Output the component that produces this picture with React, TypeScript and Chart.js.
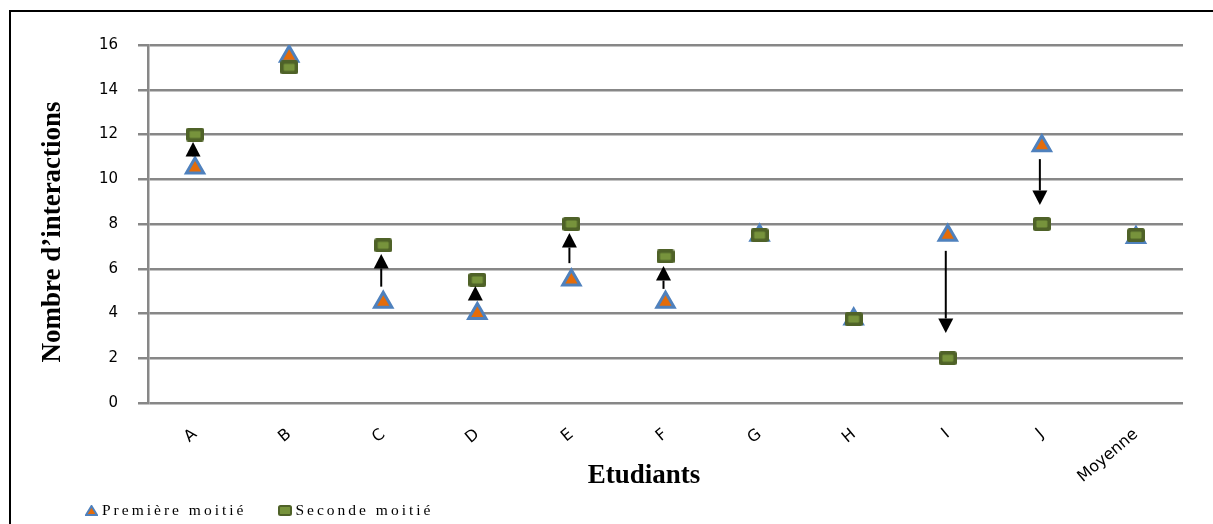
import React, { useEffect, useRef } from "react";
import { Chart, registerables } from "chart.js";

Chart.register(...registerables);

// ---- Data ----
const categories = ["A", "B", "C", "D", "E", "F", "G", "H", "I", "J", "Moyenne"];
const premiereMoitie = [10.5, 15.5, 4.5, 4.0, 5.5, 4.5, 7.5, 3.75, 7.5, 11.5, 7.4];
const secondeMoitie = [12, 15, 7.05, 5.5, 8, 6.55, 7.5, 3.75, 2, 8, 7.5];
const yTickValues = [0, 2, 4, 6, 8, 10, 12, 14, 16];
const seriesNames = ["Première moitié", "Seconde moitié"];
const xTitle = "Etudiants";
const yTitle = "Nombre d’interactions";
// arrows (annotations): category, start value, tip value
const arrowCats = ["A", "C", "D", "E", "F", "I", "J"];
const arrowFrom = [11.0, 5.2, 4.6, 6.25, 5.1, 6.8, 10.9];
const arrowTo = [11.66, 6.66, 5.23, 7.6, 6.12, 3.13, 8.85];

const TRI_BORDER = "#4F81BD";
const TRI_FILL = "#E46C0A";
const SQ_BORDER = "#4F6228";
const SQ_FILL = "#77933C";
const GRID = "#878787";

function makeSquare(w: number, h: number): HTMLCanvasElement {
  const c = document.createElement("canvas");
  c.width = w;
  c.height = h;
  const ctx = c.getContext("2d")!;
  const r = 2.5;
  const path = (x: number, y: number, ww: number, hh: number, rr: number) => {
    ctx.beginPath();
    ctx.moveTo(x + rr, y);
    ctx.lineTo(x + ww - rr, y);
    ctx.quadraticCurveTo(x + ww, y, x + ww, y + rr);
    ctx.lineTo(x + ww, y + hh - rr);
    ctx.quadraticCurveTo(x + ww, y + hh, x + ww - rr, y + hh);
    ctx.lineTo(x + rr, y + hh);
    ctx.quadraticCurveTo(x, y + hh, x, y + hh - rr);
    ctx.lineTo(x, y + rr);
    ctx.quadraticCurveTo(x, y, x + rr, y);
    ctx.closePath();
  };
  path(0, 0, w, h, r);
  ctx.fillStyle = SQ_BORDER;
  ctx.fill();
  path(3.5, 3.5, w - 7, h - 7, 1);
  ctx.fillStyle = SQ_FILL;
  ctx.fill();
  return c;
}

const overlayPlugin = {
  id: "overlay",
  afterDatasetsDraw(chart: any) {
    const { ctx, scales } = chart;
    const xs = scales.x;
    const ys = scales.y;
    ctx.save();
    ctx.fillStyle = "#000";
    ctx.strokeStyle = "#000";
    ctx.lineWidth = 2;
    const head = 14.5;
    const halfW = 7.5;
    arrowCats.forEach((cat, i) => {
      const x = xs.getPixelForValue(categories.indexOf(cat)) - 2;
      const y0 = ys.getPixelForValue(arrowFrom[i]);
      const y1 = ys.getPixelForValue(arrowTo[i]);
      const dir = y1 < y0 ? -1 : 1;
      const base = y1 - dir * head;
      if ((base - y0) * dir > 0) {
        ctx.beginPath();
        ctx.moveTo(x, y0);
        ctx.lineTo(x, base);
        ctx.stroke();
      }
      ctx.beginPath();
      ctx.moveTo(x, y1);
      ctx.lineTo(x - halfW, base);
      ctx.lineTo(x + halfW, base);
      ctx.closePath();
      ctx.fill();
    });
    ctx.restore();
  },
  afterDraw(chart: any) {
    const { ctx } = chart;
    ctx.save();
    ctx.fillStyle = "#000";
    ctx.font = 'bold 27px "Liberation Serif", "Times New Roman", serif';
    ctx.textAlign = "center";
    ctx.textBaseline = "middle";
    ctx.fillText(xTitle, 644, 476);
    ctx.translate(53, 232);
    ctx.rotate(-Math.PI / 2);
    ctx.fillText(yTitle, 0, 0);
    ctx.restore();
  },
};

function ChartCanvas() {
  const ref = useRef<HTMLCanvasElement | null>(null);
  useEffect(() => {
    if (!ref.current) return;
    const square = makeSquare(18, 14);
    const chart = new Chart(ref.current, {
      type: "line",
      data: {
        labels: categories,
        datasets: [
          {
            label: seriesNames[0],
            data: premiereMoitie,
            showLine: false,
            pointStyle: "triangle",
            pointRadius: 10,
            pointHoverRadius: 10,
            pointBorderWidth: 3,
            pointBackgroundColor: TRI_FILL,
            pointBorderColor: TRI_BORDER,
            order: 1,
          },
          {
            label: seriesNames[1],
            data: secondeMoitie,
            showLine: false,
            pointStyle: square as any,
            pointRadius: 9,
            pointHoverRadius: 9,
            pointBackgroundColor: SQ_FILL,
            pointBorderColor: SQ_BORDER,
            order: 0,
          },
        ],
      },
      options: {
        animation: false,
        responsive: false,
        devicePixelRatio: 1,
        layout: { padding: { left: 0, top: 45, right: 30, bottom: 0 } },
        plugins: {
          legend: { display: false },
          tooltip: { enabled: false },
        },
        events: [],
        scales: {
          x: {
            type: "category",
            offset: true,
            grid: { display: false, drawTicks: false },
            border: { display: false },
            ticks: {
              autoSkip: false,
              minRotation: 40,
              maxRotation: 40,
              padding: 22,
              color: "#000",
              font: { family: '"DejaVu Sans", sans-serif', size: 16 },
            },
            afterFit: (s: any) => {
              s.height = 121;
            },
          },
          y: {
            min: 0,
            max: 16,
            afterBuildTicks: (s: any) => {
              s.ticks = yTickValues.map((v) => ({ value: v }));
            },
            grid: {
              color: GRID,
              lineWidth: 2.5,
              tickLength: 10,
              drawTicks: true,
            },
            border: { display: true, color: GRID, width: 2.5 },
            ticks: {
              padding: 20,
              color: "#000",
              font: { family: '"DejaVu Sans", sans-serif', size: 15 },
            },
            afterFit: (s: any) => {
              s.width = 148;
            },
          },
        },
      },
      plugins: [overlayPlugin],
    });
    return () => chart.destroy();
  }, []);
  return <canvas ref={ref} width={1213} height={524} style={{ position: "absolute", left: 0, top: 0 }} />;
}

const legendText: React.CSSProperties = {
  fontFamily: '"Liberation Serif", "Times New Roman", serif',
  fontSize: 15.5,
  letterSpacing: "3px",
  color: "#000",
  whiteSpace: "nowrap",
};

export default function App() {
  return (
    <div style={{ position: "fixed", left: 0, top: 0, width: 1213, height: 524, background: "#fff", overflow: "hidden" }}>
      <div
        style={{
          position: "absolute",
          left: 9,
          top: 10,
          width: 1220,
          height: 530,
          borderLeft: "2px solid #000",
          borderTop: "2px solid #000",
        }}
      />
      <ChartCanvas />
      <div style={{ position: "absolute", left: 85, top: 501, display: "flex", alignItems: "center" }}>
        <svg width="13" height="11" style={{ marginRight: 4 }}>
          <polygon points="6.5,1 12,10 1,10" fill={TRI_FILL} stroke={TRI_BORDER} strokeWidth="2" />
        </svg>
        <span style={legendText}>{seriesNames[0]}</span>
        <svg width="14" height="11" style={{ marginLeft: 32, marginRight: 3 }}>
          <rect x="1" y="1" width="12" height="9" rx="1.5" fill={SQ_FILL} stroke={SQ_BORDER} strokeWidth="2" />
        </svg>
        <span style={legendText}>{seriesNames[1]}</span>
      </div>
    </div>
  );
}
